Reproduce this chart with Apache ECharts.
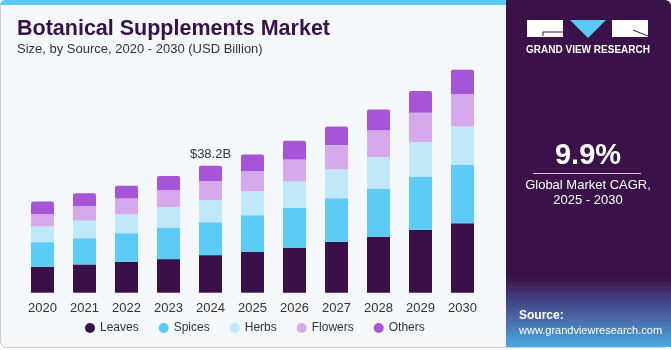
<!DOCTYPE html>
<html>
<head>
<meta charset="utf-8">
<script src="https://cdn.jsdelivr.net/npm/echarts@6/dist/echarts.min.js"></script>
<style>
  html, body { margin: 0; padding: 0; background: #fff; }
  #main { width: 671px; height: 350px; }
</style>
</head>
<body>
<div id="main"></div>
<script>
// 年份
var years = ['2020', '2021', '2022', '2023', '2024', '2025', '2026', '2027', '2028', '2029', '2030'];
// 各来源市场规模 (USD Billion)
var leaves  = [7.8, 8.5, 9.3, 10.1, 11.3, 12.3, 13.5, 15.3, 16.8, 18.9, 20.9];
var spices  = [7.4, 7.9, 8.6, 9.5, 9.9, 11.0, 12.0, 13.1, 14.4, 15.9, 17.5];
var herbs   = [4.7, 5.3, 5.7, 6.2, 6.7, 7.2, 8.0, 8.7, 9.6, 10.5, 11.6];
var flowers = [3.8, 4.3, 4.7, 5.0, 5.6, 6.0, 6.6, 7.3, 8.1, 8.8, 9.7];
var others  = [3.7, 3.9, 3.9, 4.3, 4.7, 5.1, 5.6, 5.6, 6.2, 6.6, 7.4];
var labelYear = '2024'; // 只标注这一年的总额

var names  = ['Leaves', 'Spices', 'Herbs', 'Flowers', 'Others'];
var colors = ['#3a1048', '#5ccbf6', '#bfe9f9', '#d5a9eb', '#a654d8'];
var values = [leaves, spices, herbs, flowers, others];

var FONT = '"Liberation Sans", Arial, sans-serif';

function buildSeries() {
    var res = [];
    for (var i = 0; i < names.length; i++) {
        var data = values[i].slice();
        if (i == names.length - 1) {
            var k = years.indexOf(labelYear);
            var total = 0;
            for (var j = 0; j < values.length; j++) total += values[j][k];
            data = data.map(function (v, idx) {
                if (idx != k) return v;
                return {
                    value: v,
                    label: {
                        show: true, position: 'top', distance: 5,
                        formatter: '$' + total.toFixed(1) + 'B',
                        color: '#333', fontSize: 13, fontFamily: FONT
                    }
                };
            });
        }
        res.push({
            name: names[i],
            type: 'bar',
            stack: 'total',
            barWidth: 23,
            data: data,
            itemStyle: {
                color: colors[i],
                borderRadius: i == names.length - 1 ? [2, 2, 0, 0] : 0
            }
        });
    }
    return res;
}

var myChart = echarts.init(document.getElementById('main'), null, { width: 671, height: 350 });
var option = {
    backgroundColor: '#ffffff',
    animation: false,
    title: [{
        text: 'Botanical Supplements Market',
        left: 17, top: 18, padding: 0,
        textStyle: { color: '#3a1048', fontSize: 21.5, fontWeight: 'bold', fontFamily: FONT }
    }, {
        text: 'Size, by Source, 2020 - 2030 (USD Billion)',
        left: 17, top: 43, padding: 0,
        textStyle: { color: '#333', fontSize: 13, fontWeight: 'normal', fontFamily: FONT }
    }],
    legend: {
        data: names,
        left: 80, top: 317,
        icon: 'circle',
        itemWidth: 10, itemHeight: 10,
        itemGap: 20,
        textStyle: { color: '#333', fontSize: 12, fontFamily: FONT }
    },
    grid: { left: 21.5, right: 187.5, top: 60, bottom: 57.3 },
    xAxis: {
        type: 'category',
        data: years,
        axisLine: { show: false },
        axisTick: { show: false },
        axisLabel: { color: '#333', fontSize: 13, margin: 9, fontFamily: FONT }
    },
    yAxis: {
        type: 'value', min: 0, max: 70,
        show: false,
        splitLine: { show: false }
    },
    graphic: [
        // 背景与边框
        { type: 'rect', z: -10, shape: { x: 0.5, y: 0.5, width: 670, height: 347, r: 6 },
          style: { fill: '#f4f8fb', stroke: '#c9cdd1', lineWidth: 1 } },
        { type: 'rect', z: -9, shape: { x: 0, y: 0, width: 508, height: 5, r: [6, 0, 0, 0] },
          style: { fill: '#5cc8f3' } },
        // 右侧面板
        { type: 'rect', z: -9, shape: { x: 506, y: 0, width: 165, height: 347, r: [0, 6, 0, 0] },
          style: { fill: new echarts.graphic.LinearGradient(0, 0, 0, 1, [
              { offset: 0, color: '#3a1249' },
              { offset: 0.8, color: '#3a1249' },
              { offset: 0.84, color: '#40306e' },
              { offset: 0.92, color: '#4a6aa8' },
              { offset: 1, color: '#48a9e2' }
          ]) } },
        // logo
        { type: 'rect', shape: { x: 527, y: 20, width: 36, height: 17 }, style: { fill: '#fff' } },
        { type: 'polyline', shape: { points: [[563, 32], [543, 32], [543, 36]] },
          style: { stroke: '#3a1249', lineWidth: 1, fill: null } },
        { type: 'polygon', shape: { points: [[570, 20], [606, 20], [588, 38]] }, style: { fill: '#5cc8f5' } },
        { type: 'rect', shape: { x: 612, y: 20, width: 36, height: 17 }, style: { fill: '#fff' } },
        { type: 'line', shape: { x1: 633, y1: 30, x2: 648, y2: 36 },
          style: { stroke: '#3a1249', lineWidth: 1 } },
        { type: 'text', style: { text: 'GRAND VIEW RESEARCH', x: 588, y: 50.5, align: 'center', verticalAlign: 'middle',
          fill: '#fff', font: 'bold 10px ' + FONT } },
        // CAGR
        { type: 'text', style: { text: '9.9%', x: 588, y: 156, align: 'center', verticalAlign: 'middle',
          fill: '#fff', font: 'bold 29px ' + FONT } },
        { type: 'line', shape: { x1: 533, y1: 173.5, x2: 641, y2: 173.5 },
          style: { stroke: '#d0c8d8', lineWidth: 1 } },
        { type: 'text', style: { text: 'Global Market CAGR,', x: 588, y: 185.5, align: 'center', verticalAlign: 'middle',
          fill: '#fff', font: '13px ' + FONT } },
        { type: 'text', style: { text: '2025 - 2030', x: 588, y: 200.5, align: 'center', verticalAlign: 'middle',
          fill: '#fff', font: '13px ' + FONT } },
        // 来源
        { type: 'text', style: { text: 'Source:', x: 519, y: 316, align: 'left', verticalAlign: 'middle',
          fill: '#fff', font: 'bold 12px ' + FONT } },
        { type: 'text', style: { text: 'www.grandviewresearch.com', x: 519, y: 330.5, align: 'left', verticalAlign: 'middle',
          fill: '#fff', font: '11px ' + FONT } }
    ],
    series: buildSeries()
};
if (option && typeof option === 'object') {
    myChart.setOption(option, true);
}
</script>
</body>
</html>
